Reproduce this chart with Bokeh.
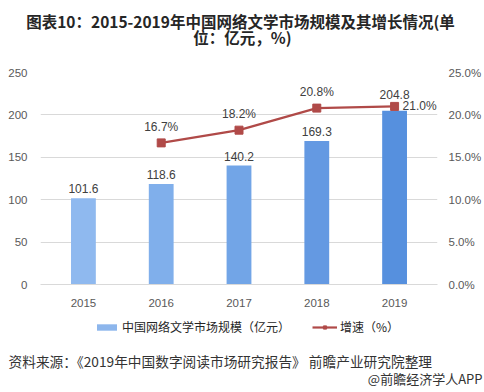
from bokeh.plotting import figure
from bokeh.models import (FactorRange, Range1d, LinearAxis, FixedTicker, PrintfTickFormatter,
                          Legend, LegendItem, ColumnDataSource)
from bokeh.core.properties import value
from bokeh.embed import file_html
from bokeh.resources import INLINE

years = ["2015", "2016", "2017", "2018", "2019"]
market = [101.6, 118.6, 140.2, 169.3, 204.8]
growth_years = ["2016", "2017", "2018", "2019"]
growth = [16.7, 18.2, 20.8, 21.0]
bar_colors = ["#8FB9EF", "#80AFEB", "#72A5E7", "#6499E2", "#5690DE"]
left_ticks = [0, 50, 100, 150, 200, 250]
right_ticks = [0, 5, 10, 15, 20, 25]
title_lines = ["图表10：2015-2019年中国网络文学市场规模及其增长情况(单", "位：亿元，%)"]
legend_labels = ["中国网络文学市场规模（亿元）", "增速（%）"]
source_text = "资料来源：《2019年中国数字阅读市场研究报告》 前瞻产业研究院整理"
credit_text = "@前瞻经济学人APP"

# style-only settings
bar_label_dy = [-5, -5, -5, -5, -12]

CJK = "Noto Sans CJK SC"
NUM = "Liberation Sans"
W = 484
H_TOP, H_MAIN, H_BOT = 60, 254, 78
BAR_LEGEND = "#8DB6EC"
LINE_C = "#B04A48"


def blank(h):
    f = figure(width=W, height=h, x_range=Range1d(0, W), y_range=Range1d(h, 0),
               output_backend="svg", toolbar_location=None,
               x_axis_location=None, y_axis_location=None,
               min_border=0, min_border_left=0, min_border_right=0,
               min_border_top=0, min_border_bottom=0)
    f.outline_line_color = None
    f.grid.visible = False
    f.background_fill_color = "white"
    f.border_fill_color = "white"
    return f


# ---- title strip
top = blank(H_TOP)
top.text(x=[240, 242], y=[20, 36], text=title_lines, text_align="center",
         text_baseline="middle", text_font=value(CJK), text_font_size="15.5px",
         text_font_style="bold", text_color="#262626")

# ---- main chart
p = figure(width=W, height=H_MAIN, x_range=FactorRange(*years, range_padding=0.0207),
           y_range=Range1d(0, 250), output_backend="svg", toolbar_location=None,
           min_border_left=40, min_border_right=44, min_border_top=12, min_border_bottom=30)
p.outline_line_color = None
p.background_fill_color = "white"
p.border_fill_color = "white"
p.extra_y_ranges = {"pct": Range1d(0, 25)}

bar_src = ColumnDataSource(dict(x=years, y=market, c=bar_colors, dy=bar_label_dy,
                                lbl=[f"{v:.1f}" for v in market]))
p.vbar(x="x", top="y", width=0.319, fill_color="c", line_color=None, source=bar_src)
p.text(x="x", y="y", text="lbl", source=bar_src, text_align="center", text_baseline="bottom",
       y_offset="dy", text_font_size="12px", text_color="#404040", text_font=value(NUM))

line_src = ColumnDataSource(dict(x=growth_years, y=growth))
p.line(x="x", y="y", source=line_src, y_range_name="pct", line_color=LINE_C, line_width=2.2)
p.scatter(x="x", y="y", source=line_src, y_range_name="pct", marker="square", size=8,
          fill_color=LINE_C, line_color=LINE_C)
lbl_src = ColumnDataSource(dict(x=growth_years[:-1], y=growth[:-1],
                                lbl=[f"{v:.1f}%" for v in growth[:-1]]))
p.text(x="x", y="y", text="lbl", source=lbl_src, y_range_name="pct", text_align="center",
       text_baseline="bottom", y_offset=-9, text_font_size="12px", text_color="#404040",
       text_font=value(NUM))
last_src = ColumnDataSource(dict(x=growth_years[-1:], y=growth[-1:], lbl=[f"{growth[-1]:.1f}%"]))
p.text(x="x", y="y", text="lbl", source=last_src, y_range_name="pct", text_align="left",
       text_baseline="middle", x_offset=8, text_font_size="12px", text_color="#404040",
       text_font=value(NUM))

p.yaxis.ticker = FixedTicker(ticks=left_ticks)
ax2 = LinearAxis(y_range_name="pct", ticker=FixedTicker(ticks=right_ticks),
                 formatter=PrintfTickFormatter(format="%.1f%%"))
p.add_layout(ax2, "right")
for ax in [p.yaxis[0], ax2]:
    ax.axis_line_color = None
    ax.major_tick_line_color = None
    ax.minor_tick_line_color = None
    ax.major_label_text_font_size = "11.5px"
    ax.major_label_text_font = NUM
    ax.major_label_text_color = "#595959"
p.yaxis[0].major_label_standoff = 7
ax2.major_label_standoff = 5

p.xaxis.axis_line_color = "#D9D9D9"
p.xaxis.major_tick_line_color = None
p.xaxis.minor_tick_line_color = None
p.xaxis.major_label_standoff = 8
p.xaxis.major_label_text_font_size = "11.5px"
p.xaxis.major_label_text_font = NUM
p.xaxis.major_label_text_color = "#595959"
p.xgrid.grid_line_color = None
p.ygrid.grid_line_color = "#D9D9D9"

# ---- legend + notes strip (legend proxies are hidden renderers)
bot = blank(H_BOT)
proxy = ColumnDataSource(dict(x=[0], y=[0]))
r_bar = bot.rect(x="x", y="y", width=1, height=1, source=proxy, fill_color=BAR_LEGEND,
                 line_color=None, visible=False)
r_line = bot.line(x="x", y="y", source=proxy, line_color=LINE_C, line_width=2.2, visible=False)
r_mk = bot.scatter(x="x", y="y", source=proxy, marker="square", size=7, fill_color=LINE_C,
                   line_color=LINE_C, visible=False)
legend = Legend(items=[LegendItem(label=legend_labels[0], renderers=[r_bar]),
                       LegendItem(label=legend_labels[1], renderers=[r_line, r_mk])],
                orientation="horizontal", location=(94, 57),
                label_text_font=CJK, label_text_font_size="12px", label_text_color="#262626",
                glyph_width=25, glyph_height=8, spacing=22, padding=0, margin=0,
                border_line_color=None, background_fill_alpha=0, label_standoff=3,
                inactive_fill_alpha=0)
bot.add_layout(legend, "center")
bot.text(x=[8], y=[46], text=[source_text], text_align="left", text_baseline="middle",
         text_font=value(CJK), text_font_size="13.7px", text_color="#333333")
bot.text(x=[482], y=[64], text=[credit_text], text_align="right", text_baseline="middle",
         text_font=value(CJK), text_font_size="13px", text_color="#333333")

open("out.html", "w").write(file_html([top, p, bot], INLINE))
